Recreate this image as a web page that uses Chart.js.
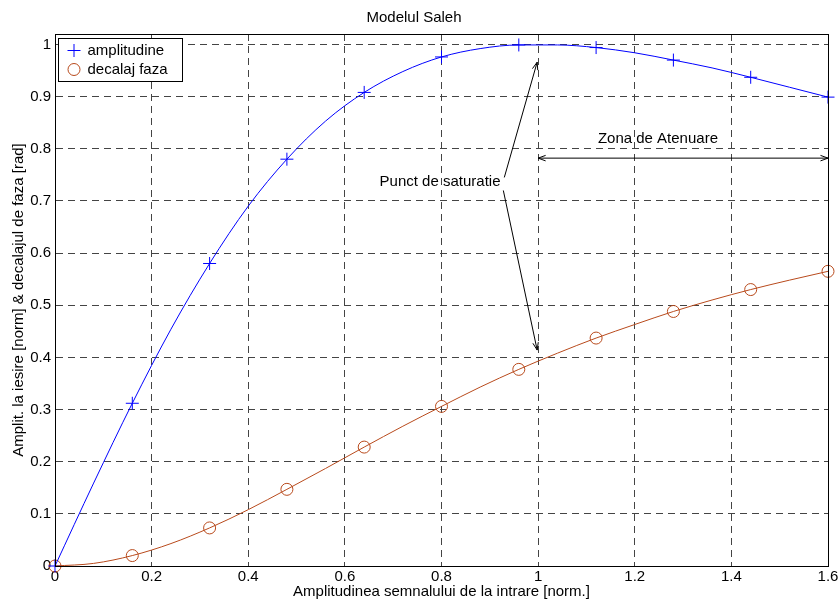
<!DOCTYPE html>
<html>
<head>
<meta charset="utf-8">
<script src="https://cdn.jsdelivr.net/npm/chart.js@4"></script>
<style>
  body { margin: 0; background: #fff; }
</style>
</head>
<body>
<canvas id="salehChart" width="839" height="600"></canvas>
<script>
// curbele netede (pas 0.08)
const xLine = [0, 0.08, 0.16, 0.24, 0.32, 0.40, 0.48, 0.56, 0.64, 0.72, 0.80,
  0.88, 0.96, 1.04, 1.12, 1.20, 1.28, 1.36, 1.44, 1.52, 1.60]
const amplLine = [0, 0.159, 0.312, 0.454, 0.580, 0.690, 0.780, 0.853, 0.908, 0.948, 0.976,
  0.992, 0.999, 0.999, 0.994, 0.984, 0.970, 0.955, 0.937, 0.918, 0.899]
const fazaLine = [0, 0.005, 0.020, 0.043, 0.073, 0.108, 0.147, 0.187, 0.228, 0.268, 0.306,
  0.343, 0.377, 0.408, 0.437, 0.463, 0.488, 0.510, 0.530, 0.548, 0.565]

// markerii
const xMarks = [0, 0.16, 0.32, 0.48, 0.64, 0.80, 0.96, 1.12, 1.28, 1.44, 1.60]
const amplMarks = [0, 0.312, 0.580, 0.780, 0.908, 0.976, 0.999, 0.994, 0.970, 0.937, 0.899]
const fazaMarks = [0, 0.020, 0.073, 0.147, 0.228, 0.306, 0.377, 0.437, 0.488, 0.530, 0.565]

const xTicks = [0, 0.2, 0.4, 0.6, 0.8, 1, 1.2, 1.4, 1.6]
const yTicks = [0, 0.1, 0.2, 0.3, 0.4, 0.5, 0.6, 0.7, 0.8, 0.9, 1]

const blue = '#0000ff'
const brown = '#b84a1c'
const font = 'Liberation Sans, Arial, sans-serif'
const fs = 15

const pts = (xs, ys) => xs.map((v, i) => ({ x: v, y: ys[i] }))

function arrowHead (ctx, x1, y1, x2, y2) {
  const ang = Math.atan2(y2 - y1, x2 - x1)
  const len = 8
  ctx.beginPath()
  ctx.moveTo(x2 - len * Math.cos(ang - 0.35), y2 - len * Math.sin(ang - 0.35))
  ctx.lineTo(x2, y2)
  ctx.lineTo(x2 - len * Math.cos(ang + 0.35), y2 - len * Math.sin(ang + 0.35))
  ctx.stroke()
}

function arrow (ctx, x1, y1, x2, y2, both) {
  ctx.beginPath()
  ctx.moveTo(x1, y1)
  ctx.lineTo(x2, y2)
  ctx.stroke()
  arrowHead(ctx, x1, y1, x2, y2)
  if (both) arrowHead(ctx, x2, y2, x1, y1)
}

const extras = {
  id: 'extras',
  afterDatasetsDraw (chart) {
    const { ctx, chartArea: a, scales: { x, y } } = chart
    ctx.save()
    ctx.strokeStyle = '#000'
    ctx.lineWidth = 1
    // cadrul axelor
    ctx.strokeRect(Math.round(a.left) + 0.5, Math.round(a.top) + 0.5,
      Math.round(a.right - a.left), Math.round(a.bottom - a.top))

    // adnotari
    ctx.fillStyle = '#000'
    ctx.font = fs + 'px ' + font
    ctx.textAlign = 'center'
    ctx.textBaseline = 'middle'
    ctx.fillText('Punct de saturatie', x.getPixelForValue(0.797), y.getPixelForValue(0.736))
    arrow(ctx, x.getPixelForValue(0.93), y.getPixelForValue(0.745),
      x.getPixelForValue(0.998), y.getPixelForValue(0.966))
    arrow(ctx, x.getPixelForValue(0.928), y.getPixelForValue(0.72),
      x.getPixelForValue(0.998), y.getPixelForValue(0.414))
    ctx.fillText('Zona de Atenuare', x.getPixelForValue(1.248), y.getPixelForValue(0.818))
    arrow(ctx, x.getPixelForValue(1), y.getPixelForValue(0.782),
      x.getPixelForValue(1.6), y.getPixelForValue(0.782), true)

    // legenda
    const lx = a.left + 3.5
    const ly = a.top + 4.5
    ctx.fillStyle = '#fff'
    ctx.fillRect(lx, ly, 124, 43)
    ctx.strokeRect(lx, ly, 124, 43)
    ctx.strokeStyle = blue
    ctx.beginPath()
    ctx.moveTo(lx + 9, ly + 12); ctx.lineTo(lx + 22, ly + 12)
    ctx.moveTo(lx + 15.5, ly + 5.5); ctx.lineTo(lx + 15.5, ly + 18.5)
    ctx.stroke()
    ctx.strokeStyle = brown
    ctx.beginPath()
    ctx.arc(lx + 15.5, ly + 31, 6, 0, Math.PI * 2)
    ctx.stroke()
    ctx.fillStyle = '#000'
    ctx.textAlign = 'left'
    ctx.fillText('amplitudine', lx + 29, ly + 12)
    ctx.fillText('decalaj faza', lx + 29, ly + 31)
    ctx.restore()
  }
}

const ctx = document.getElementById('salehChart').getContext('2d')

new Chart(ctx, {
  type: 'scatter',
  data: {
    datasets: [
      {
        label: 'amplitudine',
        data: pts(xLine, amplLine),
        showLine: true,
        borderColor: blue,
        borderWidth: 1,
        pointRadius: 0,
        cubicInterpolationMode: 'monotone'
      },
      {
        label: 'decalaj faza',
        data: pts(xLine, fazaLine),
        showLine: true,
        borderColor: brown,
        borderWidth: 1,
        pointRadius: 0,
        cubicInterpolationMode: 'monotone'
      },
      {
        label: 'amplitudine markeri',
        data: pts(xMarks, amplMarks),
        pointStyle: 'cross',
        pointRadius: 6.5,
        borderColor: blue,
        borderWidth: 1,
        clip: false
      },
      {
        label: 'decalaj markeri',
        data: pts(xMarks, fazaMarks),
        pointStyle: 'circle',
        pointRadius: 6,
        borderColor: brown,
        backgroundColor: 'rgba(0,0,0,0)',
        borderWidth: 1,
        clip: false
      }
    ]
  },
  options: {
    responsive: false,
    animation: false,
    layout: { padding: { left: 0, right: 11, top: 0, bottom: 0 } },
    plugins: {
      legend: { display: false },
      tooltip: { enabled: false },
      title: {
        display: true,
        text: 'Modelul Saleh',
        color: '#000',
        font: { family: font, size: fs, weight: 'normal', lineHeight: 1 },
        padding: { top: 10, bottom: 9 }
      }
    },
    scales: {
      x: {
        type: 'linear',
        min: 0,
        max: 1.6,
        afterBuildTicks: s => { s.ticks = xTicks.map(v => ({ value: v })) },
        afterFit: s => { s.height = 34; s.paddingLeft = 0; s.paddingRight = 0 },
        ticks: {
          color: '#000',
          padding: 3,
          maxRotation: 0,
          font: { family: font, size: fs, lineHeight: 1 },
          callback: v => String(+v.toFixed(1))
        },
        grid: { color: '#444', lineWidth: 1, drawTicks: false },
        border: { display: true, color: '#000', dash: [7, 5] },
        title: {
          display: true,
          text: 'Amplitudinea semnalului de la intrare [norm.]',
          color: '#000',
          font: { family: font, size: fs, lineHeight: 1 },
          padding: { top: 0, bottom: 1 }
        }
      },
      y: {
        min: 0,
        max: 1.02,
        afterBuildTicks: s => { s.ticks = yTicks.map(v => ({ value: v })) },
        afterFit: s => { s.width = 55 },
        ticks: {
          color: '#000',
          padding: 4,
          font: { family: font, size: fs },
          callback: v => String(+v.toFixed(1))
        },
        grid: { color: '#444', lineWidth: 1, drawTicks: false },
        border: { display: true, color: '#000', dash: [7, 5] },
        title: {
          display: true,
          text: 'Amplit. la iesire [norm] & decalajul de faza [rad]',
          color: '#000',
          font: { family: font, size: fs, lineHeight: 1 },
          padding: { top: 11, bottom: 0 }
        }
      }
    }
  },
  plugins: [extras]
})
</script>
</body>
</html>
